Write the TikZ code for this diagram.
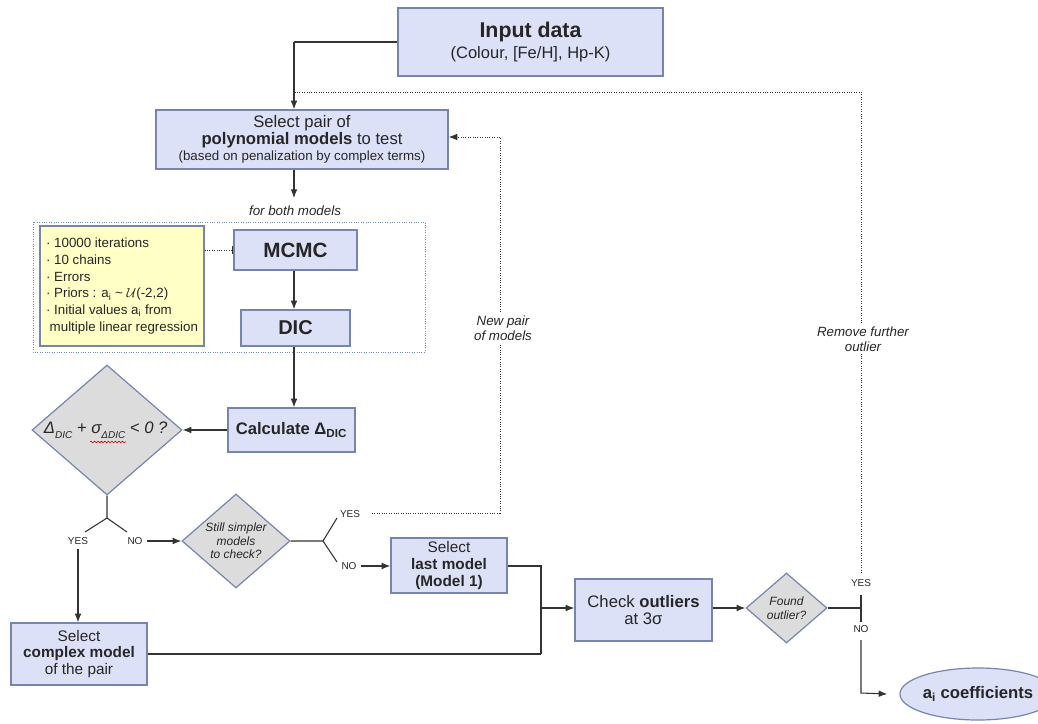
\documentclass[tikz,border=0pt]{standalone}
\usepackage{fontspec}
\setmainfont{Liberation Sans}
\usetikzlibrary{shapes.geometric,arrows.meta,decorations.pathmorphing}
\definecolor{boxfill}{HTML}{DDE1F7}
\definecolor{boxdraw}{HTML}{7585AE}
\definecolor{diafill}{HTML}{DCDCDC}
\definecolor{yel}{HTML}{FFFFC6}
\definecolor{ln}{HTML}{333333}
\definecolor{grp}{HTML}{6F88B8}
\newcommand{\lowsub}[1]{\raisebox{-0.28em}{\fontsize{7.5}{8}\selectfont #1}}
\tikzset{
  box/.style={draw=boxdraw, fill=boxfill, line width=0.9pt, align=center, inner sep=1pt, text=black!85},
  dia/.style={diamond, draw=boxdraw, fill=diafill, line width=0.9pt, inner sep=0pt},
  arr/.style={draw=ln, line width=0.8pt, -{Latex[length=6.5pt,width=5pt]}},
  con/.style={draw=ln, line width=0.8pt},
  dotln/.style={draw=ln, line width=0.7pt, dash pattern=on 0.8pt off 1pt},
  yn/.style={font=\fontsize{7.5}{9}\selectfont, text=black!85, inner sep=1pt},
  itlbl/.style={font=\fontsize{10}{11.5}\selectfont\itshape, align=center, fill=white, inner sep=2pt, text=black!85},
}
\begin{document}
\begin{tikzpicture}[x=0.75pt,y=-0.75pt]
\useasboundingbox (0,0) rectangle (1038,724);

% group box
\draw[grp, line width=0.7pt, dash pattern=on 0.8pt off 1pt] (33,222) rectangle (425,352);

% nodes
\node[box, minimum width=198.75pt, minimum height=51pt] (input) at (530.5,42)
  {{\fontsize{16}{18}\selectfont\bfseries Input data}\\[3pt]{\fontsize{12.4}{14}\selectfont (Colour, [Fe/H], Hp-K)}};
\node[box, minimum width=219pt, minimum height=44.25pt] (select) at (302,139.5)
  {{\fontsize{12.5}{13.5}\selectfont Select pair of}\\[1pt]{\fontsize{12.5}{13}\selectfont\textbf{polynomial models} to test}\\[0pt]{\fontsize{10}{12}\selectfont (based on penalization by complex terms)}};
\node[font=\fontsize{10}{12}\selectfont\itshape, text=black!85] (both) at (295,211) {for both models};
\node[box, minimum width=92.25pt, minimum height=30pt, font=\fontsize{15.5}{17}\selectfont\bfseries] (mcmc) at (295.5,250) {MCMC};
\node[box, minimum width=81.75pt, minimum height=27pt, font=\fontsize{15}{17}\selectfont\bfseries] (dic) at (295.5,328) {DIC};
\node[draw=boxdraw, fill=yel, line width=0.9pt, minimum width=123pt, minimum height=90pt, align=left, inner sep=1pt,
      font=\fontsize{10}{12.6}\selectfont, text=black!85] (prior) at (122,286)
  {· 10000 iterations\\ · 10 chains\\ · Errors\\ · Priors : a\textsubscript{i} \char`\~{} $\mathcal{U}$(-2,2)\\ · Initial values a\textsubscript{i} from\\ \ multiple linear regression};
\node[box, minimum width=95.25pt, minimum height=33pt, font=\fontsize{12.5}{14}\selectfont\bfseries] (calc) at (291.5,430) {Calculate Δ\textsubscript{DIC}};
\node[dia, minimum width=112.5pt, minimum height=97.5pt] (d1) at (107,430) {};
\node[font=\fontsize{12.5}{15}\selectfont\itshape, text=black!85] at ([xshift=-1pt]d1.center) {Δ\lowsub{DIC} + σ\lowsub{ΔDIC} < 0 ?};
\draw[red!80!black, line width=0.45pt, decorate, decoration={snake, amplitude=0.6pt, segment length=2.6pt}] (90,442) -- (126,442);
\node[dia, minimum width=81pt, minimum height=70.5pt] (d2) at (236,541) {};
\node[font=\fontsize{9}{10}\selectfont\itshape, align=center, text=black!85] at (d2.center) {Still simpler\\models\\to check?};
\node[box, minimum width=87pt, minimum height=41.25pt] (last) at (449,565.5)
  {{\fontsize{11.5}{12.75}\selectfont Select}\\[0.5pt]{\fontsize{11.5}{12.75}\selectfont\bfseries last model}\\[0.5pt]{\fontsize{11.5}{12.75}\selectfont\bfseries (Model 1)}};
\node[box, minimum width=102pt, minimum height=46.5pt] (complex) at (79,654)
  {{\fontsize{11.5}{12.4}\selectfont Select}\\[0.5pt]{\fontsize{11.5}{12.4}\selectfont\bfseries complex model}\\[0.5pt]{\fontsize{11.5}{12.4}\selectfont of the pair}};
\node[box, minimum width=102.75pt, minimum height=46.5pt] (check) at (643.5,610)
  {{\fontsize{12.5}{13.5}\selectfont Check \textbf{outliers}}\\[0.5pt]{\fontsize{12.5}{13.5}\selectfont at 3σ}};
\node[dia, minimum width=60.75pt, minimum height=52.5pt] (d3) at (786.5,608) {};
\node[font=\fontsize{9}{10.5}\selectfont\itshape, align=center, text=black!85] at (d3.center) {Found\\outlier?};
\node[ellipse, draw=boxdraw, fill=boxfill, line width=0.9pt, minimum width=96pt, minimum height=39pt, inner sep=0pt,
      font=\fontsize{12.5}{14}\selectfont\bfseries, text=black!85] (coef) at (978,694) {a\textsubscript{i} coefficients};

% yes/no labels
\node[yn] (yes1) at (78,541) {YES};
\node[yn] (no1) at (135,541) {NO};
\node[yn] (yes2) at (350,514) {YES};
\node[yn] (no2) at (349,566) {NO};
\node[yn] (yes3) at (861,583) {YES};
\node[yn] (no3) at (861,629) {NO};

% coordinates
\coordinate (j1) at (294,42);
\coordinate (j2) at (294,92);
\coordinate (f1) at (107,518);
\coordinate (f1l) at (85,532);
\coordinate (f1r) at (127,532);
\coordinate (f2) at (323,541);
\coordinate (f2u) at (337,518);
\coordinate (f2d) at (337,562);
\coordinate (m1) at (541,566);
\coordinate (m2) at (541,654);
\coordinate (m3) at (541,608);
\coordinate (f3) at (861,608);
\coordinate (f3u) at (861,595);
\coordinate (f3d) at (861,622);
\coordinate (r1) at (861,573);
\coordinate (r2) at (861,92);
\coordinate (n1) at (372,513);
\coordinate (n2) at (500,513);
\coordinate (n3) at (500,137);
\coordinate (s1) at (294,198);
\coordinate (o1) at (861,640);
\coordinate (o2) at (861,693);

% connectors
\draw[con] (input.west) -- (j1);
\draw[arr] (j1) -- (j1 |- select.north);
\draw[arr] (select.south -| s1) -- (s1);
\draw[dotln, -{Bar[width=6pt]}] (prior.east |- mcmc.west) -- (mcmc.west);
\draw[arr] (mcmc.south -| s1) -- (dic.north -| s1);
\draw[arr] (dic.south -| s1) -- (calc.north -| s1);
\draw[arr] (calc.west) -- (d1.east);
\draw[con] (d1.south) -- (f1) -- (f1l);
\draw[con] (f1) -- (f1r);
\draw[arr] (no1.east) ++(3,0) coordinate (no1e) (no1e) -- (d2.west);
\draw[arr] (yes1.south) ++(0,3) coordinate (yes1s) (yes1s) -- (yes1s |- complex.north);
\draw[con] (d2.east) -- (f2) -- (f2u);
\draw[con] (f2) -- (f2d);
\draw[arr] (no2.east) ++(3,0) coordinate (no2e) (no2e) -- (no2e -| last.west);
\draw[con] (last.east |- m1) -- (m1) -- (m2);
\draw[con] (complex.east) -- (m2);
\draw[arr] (m3) -- (check.west |- m3);
\draw[arr] (check.east |- m3) -- (d3.west);
\draw[con] (d3.east) -- (f3);
\draw[con] (f3u) -- (f3d);
\draw[arr] (o1) -- (o2) -- ([xshift=-9pt]coef.west);

% dotted feedback loops
\draw[dotln] (r1) -- (r2) -- (j2);
\node[itlbl] at (863,339) {Remove further\\outlier};
\draw[dotln] (n1) -- (n2) -- (n3);
\draw[arr, dash pattern=on 0.8pt off 1pt, line width=0.7pt] (n3) -- (n3 -| select.east);
\node[itlbl] at (503,328) {New pair\\of models};
\end{tikzpicture}
\end{document}
